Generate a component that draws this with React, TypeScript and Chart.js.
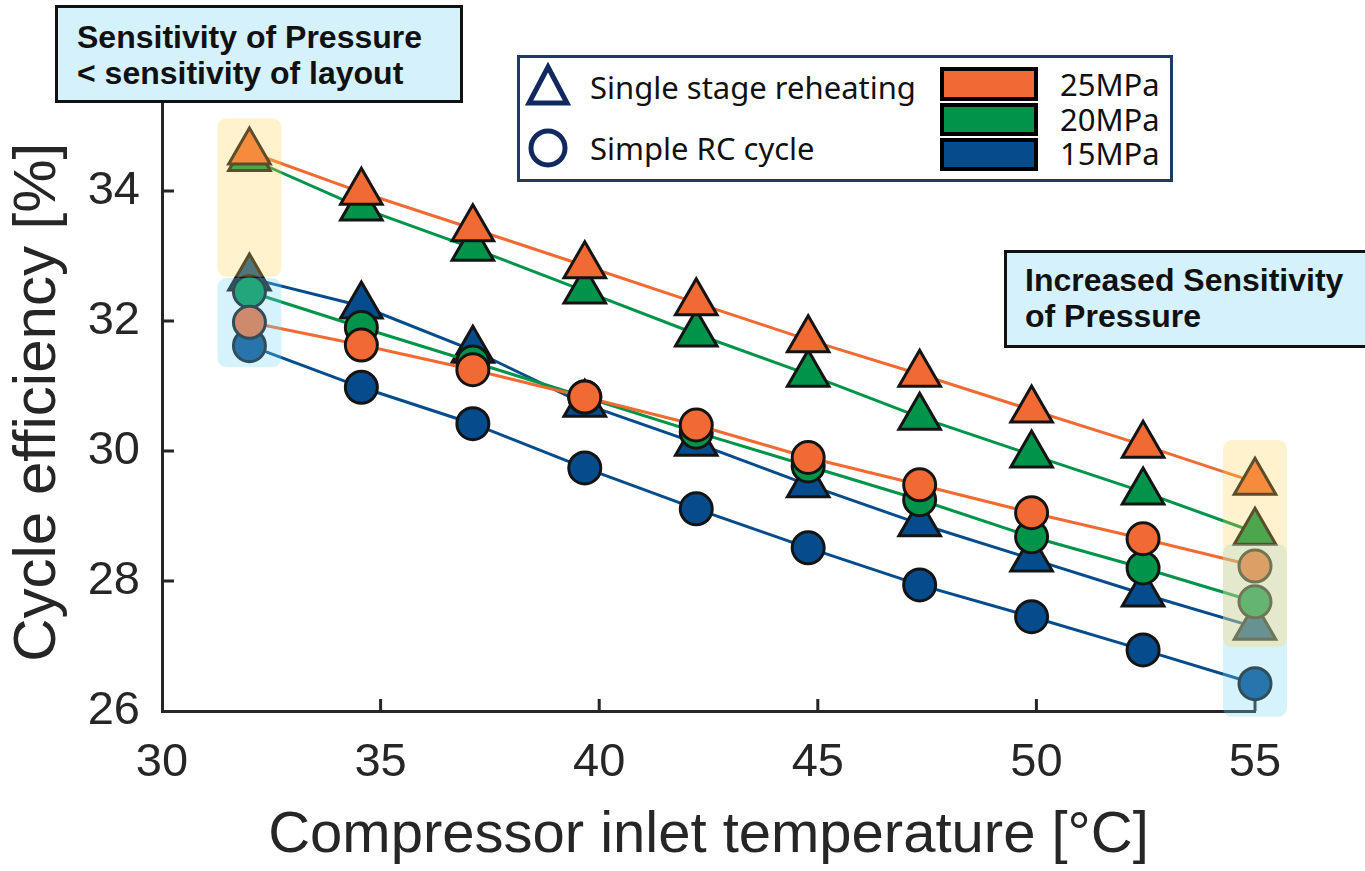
import React, { useEffect, useRef } from 'react';
import { Chart, registerables } from 'chart.js';

Chart.register(...registerables);

// ---- data ----
const inletTemps = [32, 34.56, 37.11, 39.67, 42.22, 44.78, 47.33, 49.89, 52.44, 55];
const reheat25 = [34.6, 33.98, 33.42, 32.85, 32.28, 31.71, 31.18, 30.63, 30.09, 29.52];
const reheat20 = [34.5, 33.74, 33.12, 32.46, 31.8, 31.18, 30.52, 29.94, 29.37, 28.75];
const reheat15 = [32.66, 32.23, 31.55, 30.72, 30.12, 29.48, 28.88, 28.34, 27.8, 27.29];
const simple25 = [31.98, 31.63, 31.25, 30.83, 30.4, 29.9, 29.48, 29.05, 28.65, 28.23];
const simple20 = [32.45, 31.9, 31.37, 30.83, 30.29, 29.77, 29.25, 28.68, 28.2, 27.68];
const simple15 = [31.62, 30.98, 30.42, 29.74, 29.11, 28.51, 27.94, 27.45, 26.94, 26.42];
const xTickValues = [30, 35, 40, 45, 50, 55];
const yTickValues = [26, 28, 30, 32, 34];
const pressureLabels = ['25MPa', '20MPa', '15MPa'];
const layoutLabels = ['Single stage reheating', 'Simple RC cycle'];

// ---- styles ----
const ORANGE = '#f26a33';
const GREEN = '#00934a';
const BLUE = '#054c8c';
const NAVY = '#12295f';
const INK = '#262626';
const YELLOW_HL = 'rgba(255,212,85,0.3)';
const BLUE_HL = 'rgba(118,212,245,0.3)';

// highlight bands (data coordinates)
const highlightX = [32, 32, 55, 55];
const highlightLow = [32.68, 31.29, 25.91, 26.98];
const highlightHigh = [35.12, 32.66, 28.57, 30.17];
const highlightColor = [YELLOW_HL, BLUE_HL, BLUE_HL, YELLOW_HL];

const overlayPlugin = {
  id: 'overlayPlugin',
  beforeDatasetsDraw(chart: any) {
    const { ctx, scales } = chart;
    const xs = scales.x;
    const ys = scales.y;
    ctx.save();
    ctx.strokeStyle = INK;
    ctx.lineWidth = 3;
    ctx.beginPath();
    xTickValues.forEach((v) => {
      if (v === xs.min) return;
      const px = xs.getPixelForValue(v);
      ctx.moveTo(px, ys.bottom);
      ctx.lineTo(px, ys.bottom - 12);
    });
    yTickValues.forEach((v) => {
      if (v === ys.min) return;
      const py = ys.getPixelForValue(v);
      ctx.moveTo(xs.left, py);
      ctx.lineTo(xs.left + 12, py);
    });
    ctx.stroke();
    ctx.restore();
  },
  afterDatasetsDraw(chart: any) {
    const { ctx, scales } = chart;
    const xs = scales.x;
    const ys = scales.y;
    ctx.save();
    for (let i = 0; i < highlightX.length; i++) {
      const cx = xs.getPixelForValue(highlightX[i]);
      const top = ys.getPixelForValue(highlightHigh[i]);
      const bot = ys.getPixelForValue(highlightLow[i]);
      ctx.fillStyle = highlightColor[i];
      ctx.beginPath();
      (ctx as any).roundRect(cx - 32, top, 64, bot - top, 9);
      ctx.fill();
    }
    ctx.restore();
  },
};

function series(label: string, values: number[], color: string, style: string, radius: number) {
  return {
    label,
    data: inletTemps.map((x, i) => ({ x, y: values[i] })),
    borderColor: color,
    backgroundColor: color,
    borderWidth: 3,
    pointStyle: style,
    pointRadius: radius,
    pointHoverRadius: radius,
    pointBackgroundColor: color,
    pointBorderColor: '#141414',
    pointBorderWidth: 3,
    showLine: true,
    tension: 0,
    clip: false,
  };
}

export default function App() {
  const canvasRef = useRef<HTMLCanvasElement | null>(null);

  useEffect(() => {
    if (!canvasRef.current) return;
    const chart = new Chart(canvasRef.current, {
      type: 'line',
      data: {
        datasets: [
          series('Simple 25MPa', simple25, ORANGE, 'circle', 16),
          series('Simple 20MPa', simple20, GREEN, 'circle', 16),
          series('Simple 15MPa', simple15, BLUE, 'circle', 16),
          series('Reheat 25MPa', reheat25, ORANGE, 'triangle', 24),
          series('Reheat 20MPa', reheat20, GREEN, 'triangle', 24),
          series('Reheat 15MPa', reheat15, BLUE, 'triangle', 24),
        ] as any,
      },
      options: {
        animation: false,
        responsive: false,
        maintainAspectRatio: false,
        events: [],
        layout: { padding: { top: 93.5, right: 110, left: 0, bottom: 0 } },
        plugins: { legend: { display: false }, tooltip: { enabled: false } },
        scales: {
          x: {
            type: 'linear',
            min: 30,
            max: 55,
            afterFit: (s: any) => { s.height = 160; },
            afterBuildTicks: (s: any) => { s.ticks = xTickValues.map((v) => ({ value: v })); },
            ticks: {
              stepSize: 5,
              padding: 24,
              color: INK,
              font: { family: '"Liberation Sans", Arial, sans-serif', size: 47 },
            },
            grid: { display: false, drawTicks: false },
            border: { display: true, color: INK, width: 3 },
            title: {
              display: true,
              text: 'Compressor inlet temperature [°C]',
              color: INK,
              padding: 0,
              font: { family: '"Liberation Sans", Arial, sans-serif', size: 58 },
            },
          },
          y: {
            type: 'linear',
            min: 26,
            max: 35.5,
            afterFit: (s: any) => { s.width = 162; },
            afterBuildTicks: (s: any) => { s.ticks = yTickValues.map((v) => ({ value: v })); },
            ticks: {
              stepSize: 2,
              padding: 22,
              color: INK,
              font: { family: '"Liberation Sans", Arial, sans-serif', size: 47 },
            },
            grid: { display: false, drawTicks: false },
            border: { display: true, color: INK, width: 3 },
            title: {
              display: true,
              text: 'Cycle efficiency [%]',
              color: INK,
              padding: { top: 2, bottom: 0 },
              font: { family: '"Liberation Sans", Arial, sans-serif', size: 60 },
            },
          },
        },
      } as any,
      plugins: [overlayPlugin],
    });
    return () => chart.destroy();
  }, []);

  const boxText: React.CSSProperties = {
    position: 'absolute',
    boxSizing: 'border-box',
    border: '3px solid #111',
    background: '#d5f1fc',
    fontFamily: '"Liberation Sans", Arial, sans-serif',
    fontWeight: 'bold',
    fontSize: 32,
    lineHeight: '36px',
    color: '#111',
    whiteSpace: 'nowrap',
  };
  const legendFont: React.CSSProperties = {
    position: 'absolute',
    fontFamily: '"Noto Sans", "Open Sans", sans-serif',
    fontSize: 31,
    lineHeight: '40px',
    color: '#111',
    whiteSpace: 'nowrap',
  };
  const rectColors = [ORANGE, GREEN, BLUE];
  const rectTops = [67, 103, 138];
  const rectHeights = [34, 33, 33];
  const labelCenters = [84, 119, 153];

  return (
    <div style={{ position: 'absolute', left: 0, top: 0, width: 1365, height: 871, overflow: 'hidden', background: '#fff' }}>
      <canvas ref={canvasRef} width={1365} height={871} style={{ position: 'absolute', left: 0, top: 0, width: 1365, height: 871 }} />

      <div style={{ ...boxText, left: 55, top: 5, width: 408, height: 98, paddingLeft: 19, paddingTop: 11 }}>
        <div>Sensitivity of Pressure</div>
        <div>&lt; sensitivity of layout</div>
      </div>

      <div style={{ ...boxText, left: 1004, top: 250, width: 390, height: 98, paddingLeft: 18, paddingTop: 9 }}>
        <div>Increased Sensitivity</div>
        <div>of Pressure</div>
      </div>

      <div style={{ position: 'absolute', left: 517, top: 55, width: 656, height: 127, boxSizing: 'border-box', border: '3px solid #1f3b5e', background: '#fff' }} />
      <svg style={{ position: 'absolute', left: 525, top: 62 }} width={46} height={46}>
        <polygon points="23,5 42,41 4,41" fill="none" stroke={NAVY} strokeWidth={5} strokeLinejoin="miter" />
      </svg>
      <svg style={{ position: 'absolute', left: 527, top: 127 }} width={42} height={42}>
        <circle cx={21} cy={21} r={17} fill="none" stroke={NAVY} strokeWidth={5} />
      </svg>
      <div style={{ ...legendFont, left: 590, top: 87 - 20 }}>{layoutLabels[0]}</div>
      <div style={{ ...legendFont, left: 590, top: 148 - 20 }}>{layoutLabels[1]}</div>
      {pressureLabels.map((lab, i) => (
        <React.Fragment key={lab}>
          <div style={{ position: 'absolute', left: 940, top: rectTops[i], width: 98, height: rectHeights[i], boxSizing: 'border-box', border: '4px solid #000', background: rectColors[i] }} />
          <div style={{ ...legendFont, left: 1060, top: labelCenters[i] - 20 }}>{lab}</div>
        </React.Fragment>
      ))}
    </div>
  );
}
